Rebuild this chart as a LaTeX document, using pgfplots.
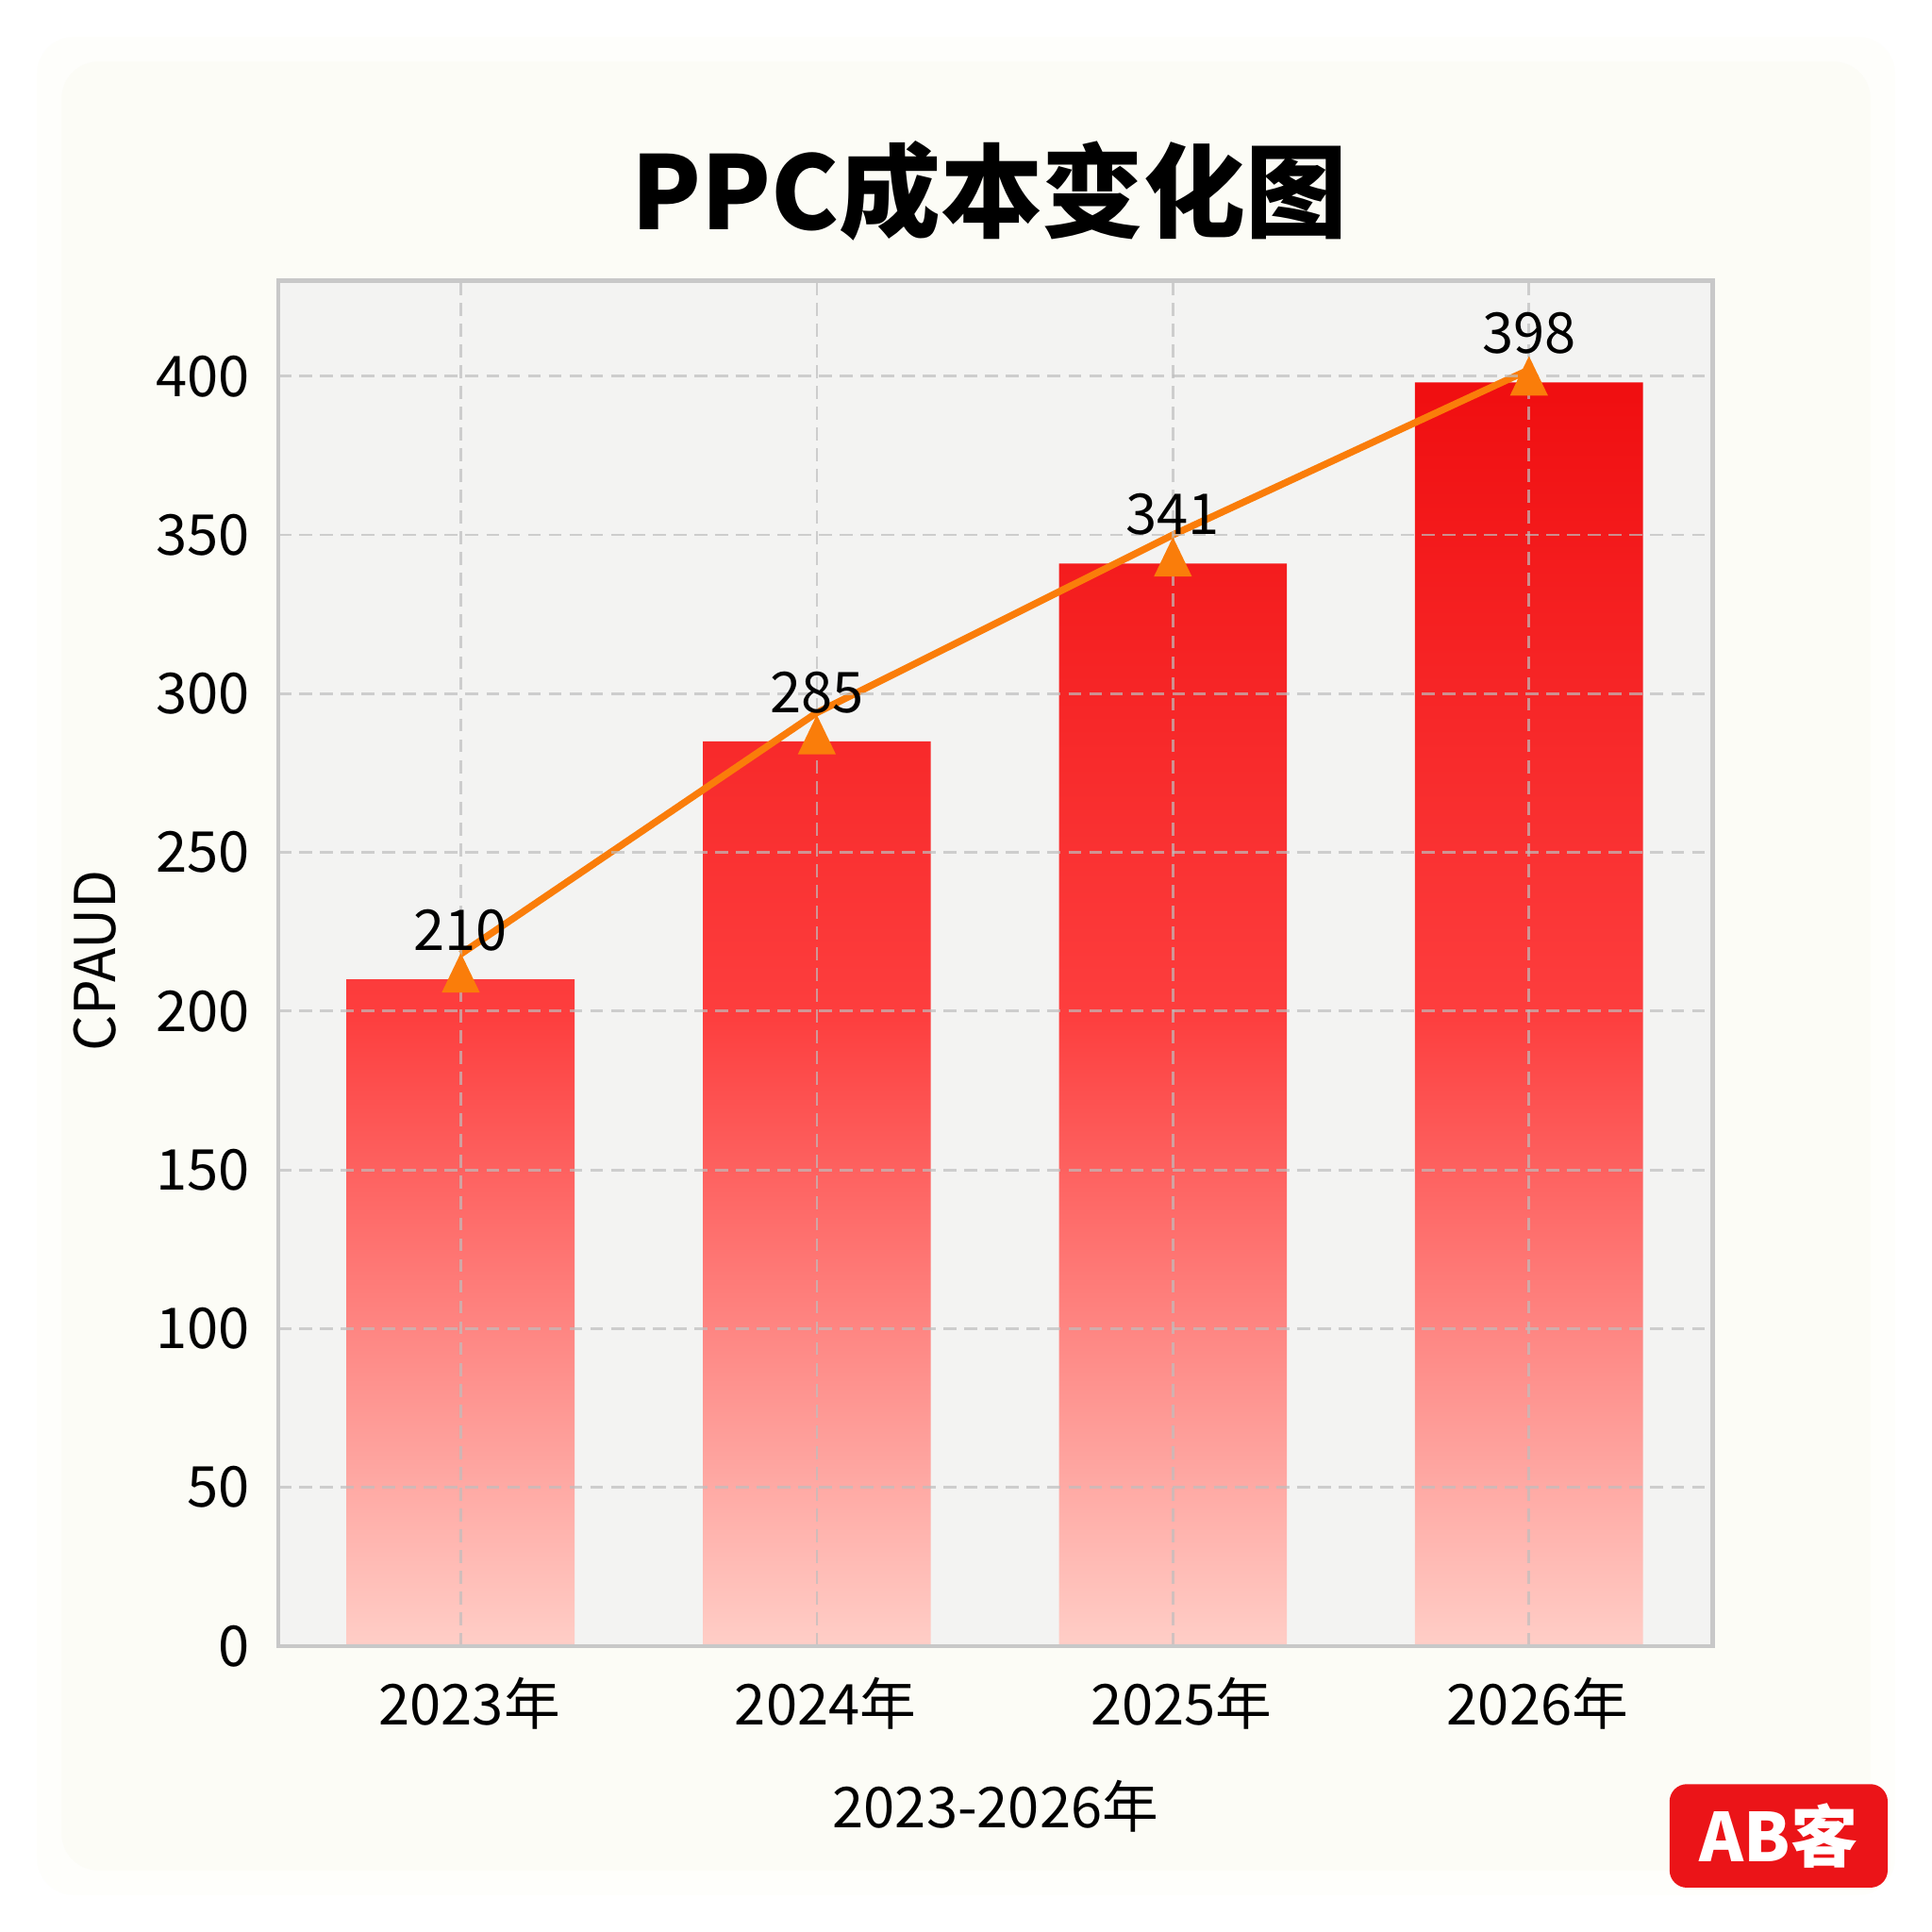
\documentclass[border=0pt]{standalone}
\usepackage{pgfplots}
\pgfplotsset{compat=1.18}
\usepackage{fontspec}
\setmainfont{Noto Sans CJK SC}
\definecolor{barTop}{RGB}{240,14,16}
\definecolor{barMid}{RGB}{253,62,62}
\definecolor{barBot}{RGB}{255,206,199}
\definecolor{lineorange}{RGB}{250,125,10}
\definecolor{plotbg}{RGB}{243,243,242}
\definecolor{framegray}{RGB}{200,200,200}
\definecolor{gridgray}{RGB}{190,190,190}
\definecolor{creamA}{RGB}{254,254,251}
\definecolor{creamB}{RGB}{252,252,246}
\definecolor{badgered}{RGB}{235,20,24}
\begin{document}
\begin{tikzpicture}[x=1cm,y=1cm]
\useasboundingbox (0,0) rectangle (15.68,15.68);
\fill[white] (0,0) rectangle (15.68,15.68);
\fill[creamA,rounded corners=0.3cm] (0.3,0.3) rectangle (15.38,15.38);
\fill[creamB,rounded corners=0.3cm] (0.5,0.5) rectangle (15.18,15.18);
\begin{axis}[
  at={(2.26cm,2.32cm)}, anchor=south west,
  scale only axis, width=11.64cm, height=11.08cm,
  xmin=-0.512, xmax=3.516, ymin=0, ymax=430,
  axis on top,
  axis background/.style={fill=plotbg},
  axis line style={draw=framegray, line width=1pt},
  xtick={0,1,2,3}, xticklabels={2023年,2024年,2025年,2026年},
  ytick={0,50,...,400},
  major tick length=0pt,
  grid=major,
  major grid style={draw=gridgray, opacity=0.7, dash pattern=on 3pt off 1.8pt, line width=0.6pt},
  tick label style={font=\fontsize{13}{15}\selectfont, text=black},
  xticklabel style={anchor=north, inner sep=0pt, yshift=-7pt, xshift=2pt},
  yticklabel style={anchor=east, inner sep=0pt, xshift=-6.5pt},
  /pgf/number format/assume math mode=true,
  xlabel={2023-2026年}, ylabel={CPAUD},
  label style={font=\fontsize{13}{15}\selectfont},
  xlabel style={at={(axis description cs:0.5,-0.117)}, anchor=center},
  ylabel style={at={(axis description cs:-0.128,0.502)}, anchor=center},
]
\addplot[ybar, bar width=0.64, draw=none, top color=barTop, bottom color=barBot, middle color=barMid]
  coordinates {(0,210) (1,285) (2,341) (3,398)};
\addplot[lineorange, line width=1.6pt, mark=none]
  coordinates {(0,218) (1,294) (2,350) (3,402)};
\addplot[only marks, mark=triangle*, mark size=4.7pt,
  mark options={fill=lineorange, draw=lineorange, yscale=1.2},
  nodes near coords,
  nodes near coords style={anchor=south, inner sep=0pt, yshift=6.3pt, font=\fontsize{13}{15}\selectfont, text=black}]
  coordinates {(0,210) (1,285) (2,341) (3,398)};
\end{axis}
\node[font=\fontsize{23.5}{28}\selectfont\bfseries] at (8.03,14.13) {PPC成本变化图};
\node[fill=badgered, rounded corners=4pt, minimum width=1.77cm, minimum height=0.84cm, inner sep=0pt,
  text=white, font=\fontsize{15.5}{18}\selectfont\bfseries] at (14.435,0.78) {AB客};
\end{tikzpicture}
\end{document}
